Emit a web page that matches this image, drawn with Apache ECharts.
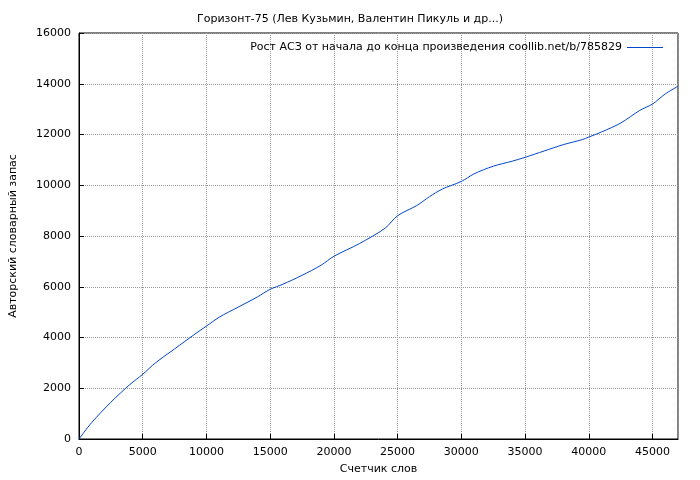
<!DOCTYPE html>
<html><head><meta charset="utf-8">
<script src="https://cdn.jsdelivr.net/npm/echarts@6/dist/echarts.min.js"></script>
<style>body{margin:0;background:#fff}#c{width:700px;height:480px}</style></head>
<body><div id="c"></div>
<script>
const titleText = 'Горизонт-75 (Лев Кузьмин, Валентин Пикуль и др...)';
const seriesName = 'Рост АСЗ от начала до конца произведения coollib.net/b/785829';
const xWords = [0,1000,2500,4000,5000,6000,7500,9000,10000,11000,12500,14000,15000,16000,17500,19000,20000,22000,24000,25000,26500,27500,28500,30000,31000,32500,34000,35000,36500,38000,39500,40000,41000,42500,44000,45000,46000,47000];
const yVocab = [0,650,1450,2150,2550,3000,3550,4100,4450,4800,5200,5600,5900,6100,6450,6850,7200,7700,8300,8800,9200,9550,9850,10150,10450,10750,10950,11100,11350,11600,11800,11900,12100,12450,12950,13200,13600,13900];
const data = xWords.map((x,i)=>[x,yVocab[i]]);
const font = 'DejaVu Sans';
const chart = echarts.init(document.getElementById('c'));
chart.setOption({
  animation:false,
  textStyle:{fontFamily:font},
  title:{text:titleText,left:'center',top:9,textStyle:{fontFamily:font,fontSize:11,fontWeight:'normal',color:'#000'}},
  legend:{right:32,top:37,itemWidth:36,itemHeight:1,icon:'rect',align:'right',itemGap:5,textStyle:{fontFamily:font,fontSize:11,color:'#000'},data:[seriesName]},
  grid:{left:75,right:22,top:33,bottom:41,show:true,borderColor:'#000',borderWidth:1},
  xAxis:{type:'value',min:0,max:47000,interval:5000,name:'Счетчик слов',nameLocation:'middle',nameGap:25,nameTextStyle:{fontFamily:font,fontSize:11,color:'#000'},
    axisLine:{lineStyle:{color:'#000'}},axisTick:{inside:true,lineStyle:{color:'#000'}},axisLabel:{color:'#000',fontSize:11,fontFamily:font,formatter:v=>String(v)},
    splitLine:{show:true,lineStyle:{type:'dotted',color:'#999'}}},
  yAxis:{type:'value',min:0,max:16000,interval:2000,name:'Авторский словарный запас',nameLocation:'middle',nameGap:60,nameTextStyle:{fontFamily:font,fontSize:11,color:'#000'},
    axisLine:{show:true,lineStyle:{color:'#000'}},axisTick:{show:true,inside:true,lineStyle:{color:'#000'}},axisLabel:{color:'#000',fontSize:11,fontFamily:font,formatter:v=>String(v)},
    splitLine:{show:true,lineStyle:{type:'dotted',color:'#999'}}},
  series:[{name:seriesName,type:'line',data:data,showSymbol:false,smooth:0.3,lineStyle:{width:1,color:'#0046c8'},itemStyle:{color:'#0046c8'}}]
});
</script></body></html>
